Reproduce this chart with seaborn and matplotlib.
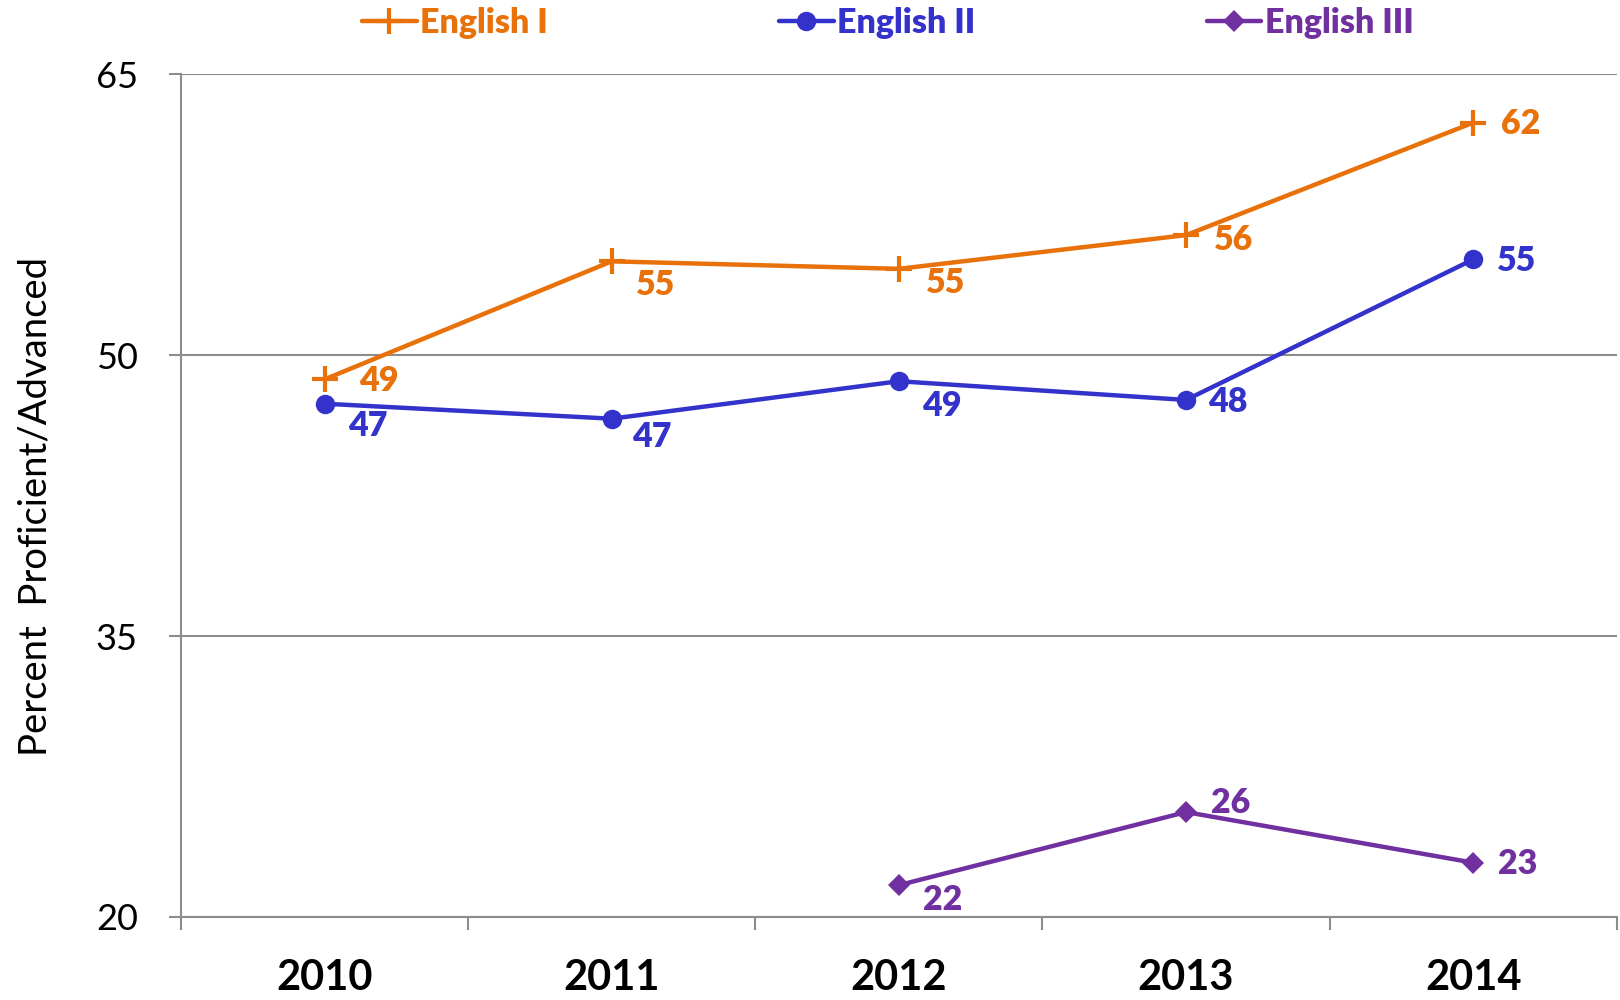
import matplotlib
matplotlib.use("Agg")
import matplotlib.pyplot as plt
import seaborn as sns
import pandas as pd

# datos
years = ["2010", "2011", "2012", "2013", "2014"]
english1 = [48.7, 55.0, 54.6, 56.4, 62.4]
english2 = [47.4, 46.6, 48.6, 47.6, 55.1]
years3 = ["2012", "2013", "2014"]
english3 = [21.7, 25.6, 22.9]
yticks = [20, 35, 50, 65]

sns.set_theme(style="white")
plt.rcParams["font.family"] = ["Lato", "DejaVu Sans"]

colors = {"English I": "#E8710A", "English II": "#3333CC", "English III": "#7030A0"}
series = [
    ("English I", years, english1, dict(marker="+", markersize=19, markeredgewidth=3)),
    ("English II", years, english2, dict(marker="o", markersize=14, markeredgewidth=0)),
    ("English III", years3, english3, dict(marker="D", markersize=11, markeredgewidth=0)),
]
# desplazamientos de las etiquetas (pixeles)
offsets = {
    "English I": [(54, -2), (44, -24), (47, -14), (48, -5), (47, -1)],
    "English II": [(43, -22), (40, -18), (43, -25), (42, -2), (43, -2)],
    "English III": [(44, -15), (45, 9), (45, -1)],
}

fig = plt.figure(figsize=(16.2, 10), dpi=100)
ax = fig.add_axes([0.1117, 0.083, 0.8863, 0.843])

for name, xs, vals, mk in series:
    df = pd.DataFrame({"year": xs, "value": vals})
    # posicion categorica segun la lista de años
    df["pos"] = [years.index(y) for y in xs]
    sns.lineplot(data=df, x="pos", y="value", ax=ax, color=colors[name],
                 linewidth=3.2, label=name, markeredgecolor=colors[name], **mk)
    for (p, v), off in zip(zip(df["pos"], df["value"]), offsets[name]):
        ax.annotate(f"{v:.0f}", (p, v), xytext=off, textcoords="offset pixels",
                    ha="center", va="center", fontsize=24.5, fontweight="heavy",
                    color=colors[name])

ax.set_xlim(-0.5, 4.5)
ax.set_ylim(20, 65)
ax.set_yticks(yticks)
ax.set_xticks(range(len(years)))
ax.set_xticklabels(years, fontsize=30, fontweight="bold")
ax.set_xticks([i - 0.5 for i in range(len(years) + 1)], minor=True)
ax.tick_params(axis="x", which="major", length=0, pad=30, colors="black")
ax.tick_params(axis="x", which="minor", bottom=True, length=9, width=1.5,
               color="#8C8C8C", direction="out")
ax.tick_params(axis="y", left=True, length=9, width=1.5, color="#8C8C8C",
               labelsize=26, pad=22, labelcolor="black")
ax.grid(axis="y", color="#8C8C8C", linewidth=1.5)
ax.set_xlabel("")
ax.set_ylabel("Percent  Proficient/Advanced", fontsize=27.5, color="black")
ax.yaxis.set_label_coords(-0.089, 0.4875)
for s in ["top", "right"]:
    ax.spines[s].set_visible(False)
for s in ["left", "bottom"]:
    ax.spines[s].set_color("#8C8C8C")
    ax.spines[s].set_linewidth(1.5)

handles, labels = ax.get_legend_handles_labels()
ax.get_legend().remove()
leg = fig.legend(handles, labels, loc="center", bbox_to_anchor=(0.548, 0.977),
                 ncol=3, frameon=False, handlelength=1.6, handletextpad=0.1,
                 columnspacing=6.8, prop={"size": 24.5, "weight": "heavy"})
for t, name in zip(leg.get_texts(), labels):
    t.set_color(colors[name])

fig.savefig("out.png", dpi=100)
